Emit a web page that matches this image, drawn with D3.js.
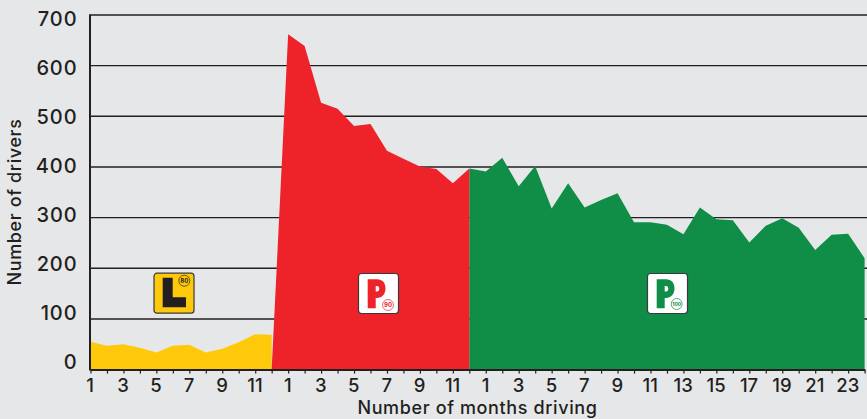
<!DOCTYPE html>
<html>
<head>
<meta charset="utf-8">
<script src="https://cdn.jsdelivr.net/npm/d3@7"></script>
<style>
  html, body { margin: 0; padding: 0; background: #e6e7e9; }
  svg { display: block; }
  text { font-family: Inter, "Open Sans", sans-serif; fill: #231f20; }
  .tick-label { font-size: 18.5px; font-weight: 500; }
  .axis-title { font-size: 18px; font-weight: 500; letter-spacing: 0.62px; }
</style>
</head>
<body>
<svg id="chart"></svg>
<script>
// Tick labels along the x axis: L plates, then P1, then P2
const learnerMonths = [1, 2, 3, 4, 5, 6, 7, 8, 9, 10, 11, 12];
const p1Months = [1, 2, 3, 4, 5, 6, 7, 8, 9, 10, 11, 12];
const p2Months = [1, 2, 3, 4, 5, 6, 7, 8, 9, 10, 11, 12, 13, 14, 15, 16, 17, 18, 19, 20, 21, 22, 23, 24];
const yTicks = [0, 100, 200, 300, 400, 500, 600, 700];

// Number of drivers per month
const learnerValues = [55, 47, 50, 43, 34, 47, 49, 34, 41, 54, 70, 69];
const p1Values = [662, 639, 527, 515, 481, 485, 432, 416, 401, 396, 368, 397];
const p2Values = [391, 418, 362, 402, 318, 368, 320, 335, 348, 291, 291, 286, 267, 320, 297, 295, 251, 284, 299, 280, 236, 266, 268, 220];

const config = {
  width: 867,
  height: 419,
  left: 90.5,
  right: 864.6,
  top: 15,
  bottom: 369.6,
  dark: '#231f20',
  grey: '#e6e7e9',
  yellow: '#ffc90b',
  red: '#ee2229',
  green: '#108d46'
};

const monthLabels = [...learnerMonths, ...p1Months, ...p2Months];

const svg = d3.select('#chart')
    .attr('width', config.width)
    .attr('height', config.height);

svg.append('rect')
    .attr('width', config.width)
    .attr('height', config.height)
    .attr('fill', config.grey);

const xScale = d3.scalePoint()
    .domain(d3.range(monthLabels.length))
    .range([config.left, config.right]);

const yScale = d3.scaleLinear()
    .domain([0, 700])
    .range([config.bottom, config.top]);

// In the original the y labels are spaced a little tighter than the grid lines
const yLabelScale = d3.scaleLinear()
    .domain([0, 700])
    .range([362, 19]);

// Grid lines sit behind the areas
svg.append('g')
    .selectAll('line')
    .data(yTicks.filter(d => d > 0))
  .join('line')
    .attr('x1', config.left)
    .attr('x2', config.width)
    .attr('y1', d => yScale(d))
    .attr('y2', d => yScale(d))
    .attr('stroke', config.dark)
    .attr('stroke-width', 1.4);

const area = d3.area()
    .x(d => xScale(d.i))
    .y0(yScale(0))
    .y1(d => yScale(d.v));

// Each area runs from its first month; P1 rises from the last L month and P2 starts at the last P1 month
const learnerPoints = learnerValues.map((v, i) => ({i: i, v: v}));
const p1Start = learnerMonths.length;
const p1Points = [{i: p1Start - 1, v: 0}, ...p1Values.map((v, i) => ({i: p1Start + i, v: v}))];
const p2Start = p1Start + p1Months.length;
const p2Points = [{i: p2Start - 1, v: p1Values[p1Values.length - 1]}, ...p2Values.map((v, i) => ({i: p2Start + i, v: v}))];

svg.append('path').attr('d', area(learnerPoints)).attr('fill', config.yellow);
svg.append('path').attr('d', area(p2Points)).attr('fill', config.green);
svg.append('path').attr('d', area(p1Points)).attr('fill', config.red);

// Axes
const xAxis = d3.axisBottom(xScale)
    .tickSize(4)
    .tickSizeOuter(0)
    .tickFormat(i => i % 2 === 0 ? monthLabels[i] : '');

const xAxisG = svg.append('g')
    .attr('transform', `translate(0,${config.bottom})`)
    .call(xAxis);
xAxisG.select('.domain').attr('stroke', config.dark).attr('stroke-width', 2);
xAxisG.selectAll('.tick line').attr('stroke', config.dark).attr('stroke-width', 1.2);
xAxisG.selectAll('.tick text')
    .attr('class', 'tick-label')
    .attr('y', 9)
    .attr('dx', -0.8)
    .attr('dy', '0.71em');

svg.append('line')
    .attr('x1', config.left - 0.5)
    .attr('x2', config.left - 0.5)
    .attr('y1', yScale(700) - 0.7)
    .attr('y2', yScale(0) + 1)
    .attr('stroke', config.dark)
    .attr('stroke-width', 2);

svg.append('g')
    .selectAll('text')
    .data(yTicks)
  .join('text')
    .attr('class', 'tick-label')
    .style('font-size', '20px')
    .style('letter-spacing', '0.9px')
    .attr('x', 77.5)
    .attr('y', d => yLabelScale(d))
    .attr('dy', '0.36em')
    .attr('text-anchor', 'end')
    .text(d => d);

svg.append('text')
    .attr('class', 'axis-title')
    .attr('x', 477.5)
    .attr('y', 414)
    .attr('text-anchor', 'middle')
    .text('Number of months driving');

svg.append('text')
    .attr('class', 'axis-title')
    .attr('transform', 'translate(21,202) rotate(-90)')
    .attr('text-anchor', 'middle')
    .text('Number of drivers');

// Licence plate badges
function addBadge(x, y, fill, colour, speed, dotX, dotY) {
  const g = svg.append('g').attr('transform', `translate(${x},${y})`);
  g.append('rect')
      .attr('x', 0.5).attr('y', 0.5)
      .attr('width', 40).attr('height', 40)
      .attr('rx', 3)
      .attr('fill', fill)
      .attr('stroke', '#3a3a3c')
      .attr('stroke-width', 1.2);
  g.append('circle')
      .attr('cx', dotX).attr('cy', dotY)
      .attr('r', 5.5)
      .attr('fill', fill)
      .attr('stroke', colour)
      .attr('stroke-width', 0.7);
  g.append('text')
      .attr('x', dotX).attr('y', dotY)
      .attr('dy', '0.36em')
      .attr('text-anchor', 'middle')
      .style('font-size', speed.length > 2 ? '5px' : '6px')
      .style('font-weight', 700)
      .style('fill', colour)
      .text(speed);
  return g;
}

const learnerBadge = addBadge(153.5, 272.7, config.yellow, config.dark, '80', 30.8, 8);
learnerBadge.append('path')
    .attr('d', 'M9.2,5 H19.2 V24.6 H32.5 V34.6 H9.2 Z')
    .attr('fill', config.dark);

// The P is part of the plate artwork, drawn under the speed circle
[[358, config.red, '90', 30, 32], [647, config.green, '100', 29.7, 31]].forEach(b => {
  const g = addBadge(b[0], 273, '#fff', b[1], b[2], b[3], b[4]);
  g.insert('path', 'circle')
      .attr('d', 'M9.7,6.3 H19 C24.5,6.3 27.5,10 27.5,15.5 C27.5,21 24,25 19,25 H17.7 V35.3 H9.7 Z M17.7,13 V18.5 H19 C22,18.5 22,13 19,13 Z')
      .attr('fill-rule', 'evenodd')
      .attr('fill', b[1]);
});
</script>
</body>
</html>
